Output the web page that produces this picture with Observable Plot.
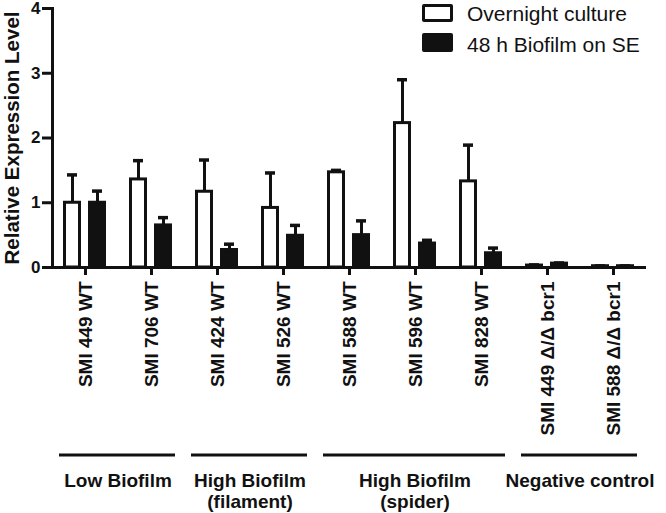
<!DOCTYPE html>
<html>
<head>
<meta charset="utf-8">
<script src="https://cdn.jsdelivr.net/npm/d3@7"></script>
<script src="https://cdn.jsdelivr.net/npm/@observablehq/plot@0.6"></script>
<style>
  html, body { margin: 0; padding: 0; background: white; }
  #wrap { position: relative; width: 666px; height: 513px; font-family: "Liberation Sans", Arial, sans-serif; color: #111; }
  .lg-box { position: absolute; box-sizing: border-box; }
  .lg-text { position: absolute; font-size: 21px; line-height: 21px; white-space: nowrap; }
</style>
</head>
<body>
<div id="wrap"></div>
<script>
const categories = ["SMI 449 WT", "SMI 706 WT", "SMI 424 WT", "SMI 526 WT", "SMI 588 WT", "SMI 596 WT", "SMI 828 WT", "SMI 449 Δ/Δ bcr1", "SMI 588 Δ/Δ bcr1"];
const series = ["Overnight culture", "48 h Biofilm on SE"];
const overnightMean = [1.00, 1.36, 1.17, 0.92, 1.47, 2.23, 1.33, 0.03, 0.02];
const overnightSD   = [0.43, 0.29, 0.49, 0.54, 0.03, 0.67, 0.56, 0.01, 0.005];
const biofilmMean   = [1.00, 0.65, 0.27, 0.49, 0.50, 0.37, 0.22, 0.06, 0.02];
const biofilmSD     = [0.18, 0.12, 0.09, 0.16, 0.22, 0.05, 0.08, 0.01, 0.005];
const groups = ["Low Biofilm", "High Biofilm\n(filament)", "High Biofilm\n(spider)", "Negative control"];
const categoryGroup = [0, 0, 1, 1, 2, 2, 2, 3, 3];
const yTicks = [0, 1, 2, 3, 4];
const yLabel = "Relative Expression Level";

const data = [];
categories.forEach((c, i) => {
  data.push({category: c, series: series[0], value: overnightMean[i], top: overnightMean[i] + overnightSD[i]});
  data.push({category: c, series: series[1], value: biofilmMean[i], top: biofilmMean[i] + biofilmSD[i]});
});

const ink = "#111";
const chart = Plot.plot({
  width: 666,
  height: 513,
  marginTop: 8,
  marginLeft: 50,
  marginRight: 18,
  marginBottom: 246,
  style: {fontFamily: "'Liberation Sans', Arial, sans-serif", fontSize: "17px", fontWeight: "bold", color: ink, background: "white", overflow: "visible"},
  fx: {domain: categories, padding: 0},
  x: {domain: series, paddingInner: 0.27, paddingOuter: 0.41, axis: null},
  y: {domain: [0, 4]},
  color: {domain: series, range: ["white", ink]},
  marks: [
    Plot.ruleX(data, {fx: "category", x: "series", y1: "value", y2: "top", stroke: ink, strokeWidth: 3}),
    Plot.tickY(data, {fx: "category", x: "series", y: "top", stroke: ink, strokeWidth: 3.5, insetLeft: 4, insetRight: 4}),
    Plot.barY(data, {fx: "category", x: "series", y: "value", fill: "series", stroke: ink, strokeWidth: 3, insetLeft: 1.5, insetRight: 1.5}),
    Plot.ruleY([0], {stroke: ink, strokeWidth: 3}),
    Plot.frame({anchor: "left", facetAnchor: "left", stroke: ink, strokeWidth: 3}),
    Plot.axisY({ticks: yTicks, tickFormat: d3.format("d"), tickSize: 10, tickPadding: 2, stroke: ink, strokeWidth: 3, fontSize: 17, label: null}),
    Plot.text([yLabel], {frameAnchor: "left", rotate: -90, dx: -40, textAnchor: "middle", lineAnchor: "middle", facetAnchor: "left", fontSize: 20.5, fontWeight: "bold", fill: ink}),
    Plot.axisFx({anchor: "bottom", tickSize: 8, tickPadding: 6, tickRotate: -90, fontSize: 19, label: null, stroke: ink, strokeWidth: 3})
  ]
});

const wrap = document.getElementById("wrap");
wrap.appendChild(chart);

// group brackets below the category labels, positioned with Plot's fx scale
const fxs = chart.scale("fx");
let fxApply = fxs.apply;
if (typeof fxApply !== "function") {
  const b = d3.scaleBand().domain(fxs.domain).range(fxs.range)
    .paddingInner(fxs.paddingInner ?? 0).paddingOuter(fxs.paddingOuter ?? 0).align(fxs.align ?? 0.5);
  fxApply = (v) => b(v);
}
const bw = fxs.bandwidth;
const svg = d3.select(chart);
const g = svg.append("g").attr("fill", ink).attr("font-size", 19).attr("font-weight", "bold").attr("text-anchor", "middle");
groups.forEach((name, gi) => {
  const members = categories.filter((c, i) => categoryGroup[i] === gi);
  const c0 = fxApply(members[0]) + bw / 2;
  const c1 = fxApply(members[members.length - 1]) + bw / 2;
  g.append("line").attr("x1", c0 - 26).attr("x2", c1 + 24).attr("y1", 455).attr("y2", 455)
    .attr("stroke", ink).attr("stroke-width", 3);
  const t = g.append("text").attr("x", (c0 + c1) / 2).attr("y", 487);
  name.split("\n").forEach((line, li) => {
    t.append("tspan").attr("x", (c0 + c1) / 2).attr("dy", li === 0 ? 0 : 21).text(line);
  });
});

// legend
const legend = [
  {top: 4, h: 18, fill: "white", textTop: 3},
  {top: 33, h: 19, fill: ink, textTop: 34}
];
legend.forEach((l, i) => {
  const box = document.createElement("div");
  box.className = "lg-box";
  Object.assign(box.style, {left: "422px", top: l.top + "px", width: "31px", height: l.h + "px", background: l.fill, border: "3px solid " + ink, borderRadius: "2px"});
  wrap.appendChild(box);
  const tx = document.createElement("div");
  tx.className = "lg-text";
  Object.assign(tx.style, {left: "467px", top: l.textTop + "px"});
  tx.textContent = series[i];
  wrap.appendChild(tx);
});
</script>
</body>
</html>
